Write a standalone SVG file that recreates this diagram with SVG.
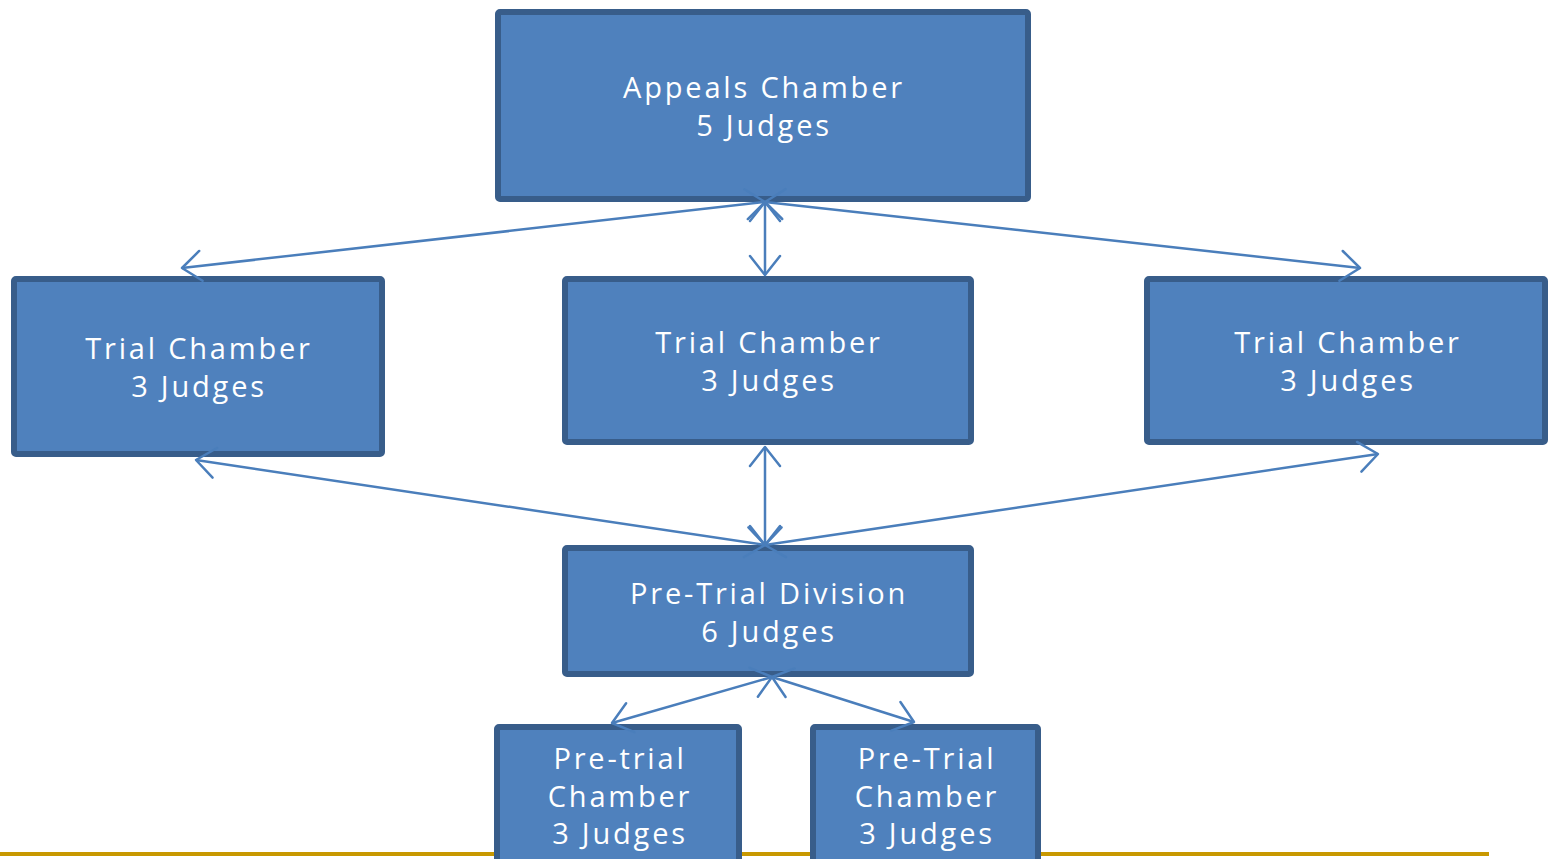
<svg xmlns="http://www.w3.org/2000/svg" width="1549" height="859" viewBox="0 0 1549 859">
<defs>
<style>
.box{fill:#4F81BD;stroke:#385D8A;stroke-width:6;}
.lbl{font-family:"Open Sans","Liberation Sans",sans-serif;font-size:29px;fill:#FFFFFF;text-anchor:middle;letter-spacing:2.8px;}
.con{stroke:#4A7EBB;stroke-width:2.5;fill:none;marker-start:url(#arr);marker-end:url(#arr);}
</style>
<marker id="arr" markerUnits="userSpaceOnUse" viewBox="-2 -2 24 34" markerWidth="24" markerHeight="34" refX="19" refY="15" orient="auto-start-reverse">
<path d="M0,0 L19,15 L0,30" fill="none" stroke="#4A7EBB" stroke-width="2.5" stroke-linecap="round" stroke-linejoin="round"/>
</marker>
</defs>
<rect width="1549" height="859" fill="#FFFFFF"/>
<line x1="0" y1="854" x2="1489" y2="854" stroke="#C89800" stroke-width="4"/>
<g id="appeals">
<rect class="box" x="498" y="12" width="530" height="187" rx="2"/>
<text class="lbl" x="764" y="98">Appeals Chamber</text>
<text class="lbl" x="764" y="136">5 Judges</text>
</g>
<g id="trial-left">
<rect class="box" x="14" y="279" width="368" height="175" rx="2"/>
<text class="lbl" x="199" y="359">Trial Chamber</text>
<text class="lbl" x="199" y="397">3 Judges</text>
</g>
<g id="trial-center">
<rect class="box" x="565" y="279" width="406" height="163" rx="2"/>
<text class="lbl" x="769" y="353">Trial Chamber</text>
<text class="lbl" x="769" y="391">3 Judges</text>
</g>
<g id="trial-right">
<rect class="box" x="1147" y="279" width="398" height="163" rx="2"/>
<text class="lbl" x="1348" y="353">Trial Chamber</text>
<text class="lbl" x="1348" y="391">3 Judges</text>
</g>
<g id="pretrial-division">
<rect class="box" x="565" y="548" width="406" height="126" rx="2"/>
<text class="lbl" x="769" y="604">Pre-Trial Division</text>
<text class="lbl" x="769" y="642">6 Judges</text>
</g>
<g id="pretrial-chamber-left">
<rect class="box" x="497" y="727" width="242" height="140" rx="2"/>
<text class="lbl" x="620" y="769">Pre-trial</text>
<text class="lbl" x="620" y="807">Chamber</text>
<text class="lbl" x="620" y="844">3 Judges</text>
</g>
<g id="pretrial-chamber-right">
<rect class="box" x="813" y="727" width="225" height="140" rx="2"/>
<text class="lbl" x="927" y="769">Pre-Trial</text>
<text class="lbl" x="927" y="807">Chamber</text>
<text class="lbl" x="927" y="844">3 Judges</text>
</g>
<g id="connectors">
<line class="con" x1="765" y1="202" x2="182" y2="268"/>
<line class="con" x1="765" y1="202" x2="765" y2="275"/>
<line class="con" x1="765" y1="202" x2="1360" y2="268"/>
<line class="con" x1="765" y1="545" x2="196" y2="460"/>
<line class="con" x1="765" y1="545" x2="765" y2="447"/>
<line class="con" x1="765" y1="545" x2="1378" y2="454"/>
<line class="con" x1="772" y1="677" x2="612" y2="723"/>
<line class="con" x1="772" y1="677" x2="914" y2="722"/>
</g>
</svg>
